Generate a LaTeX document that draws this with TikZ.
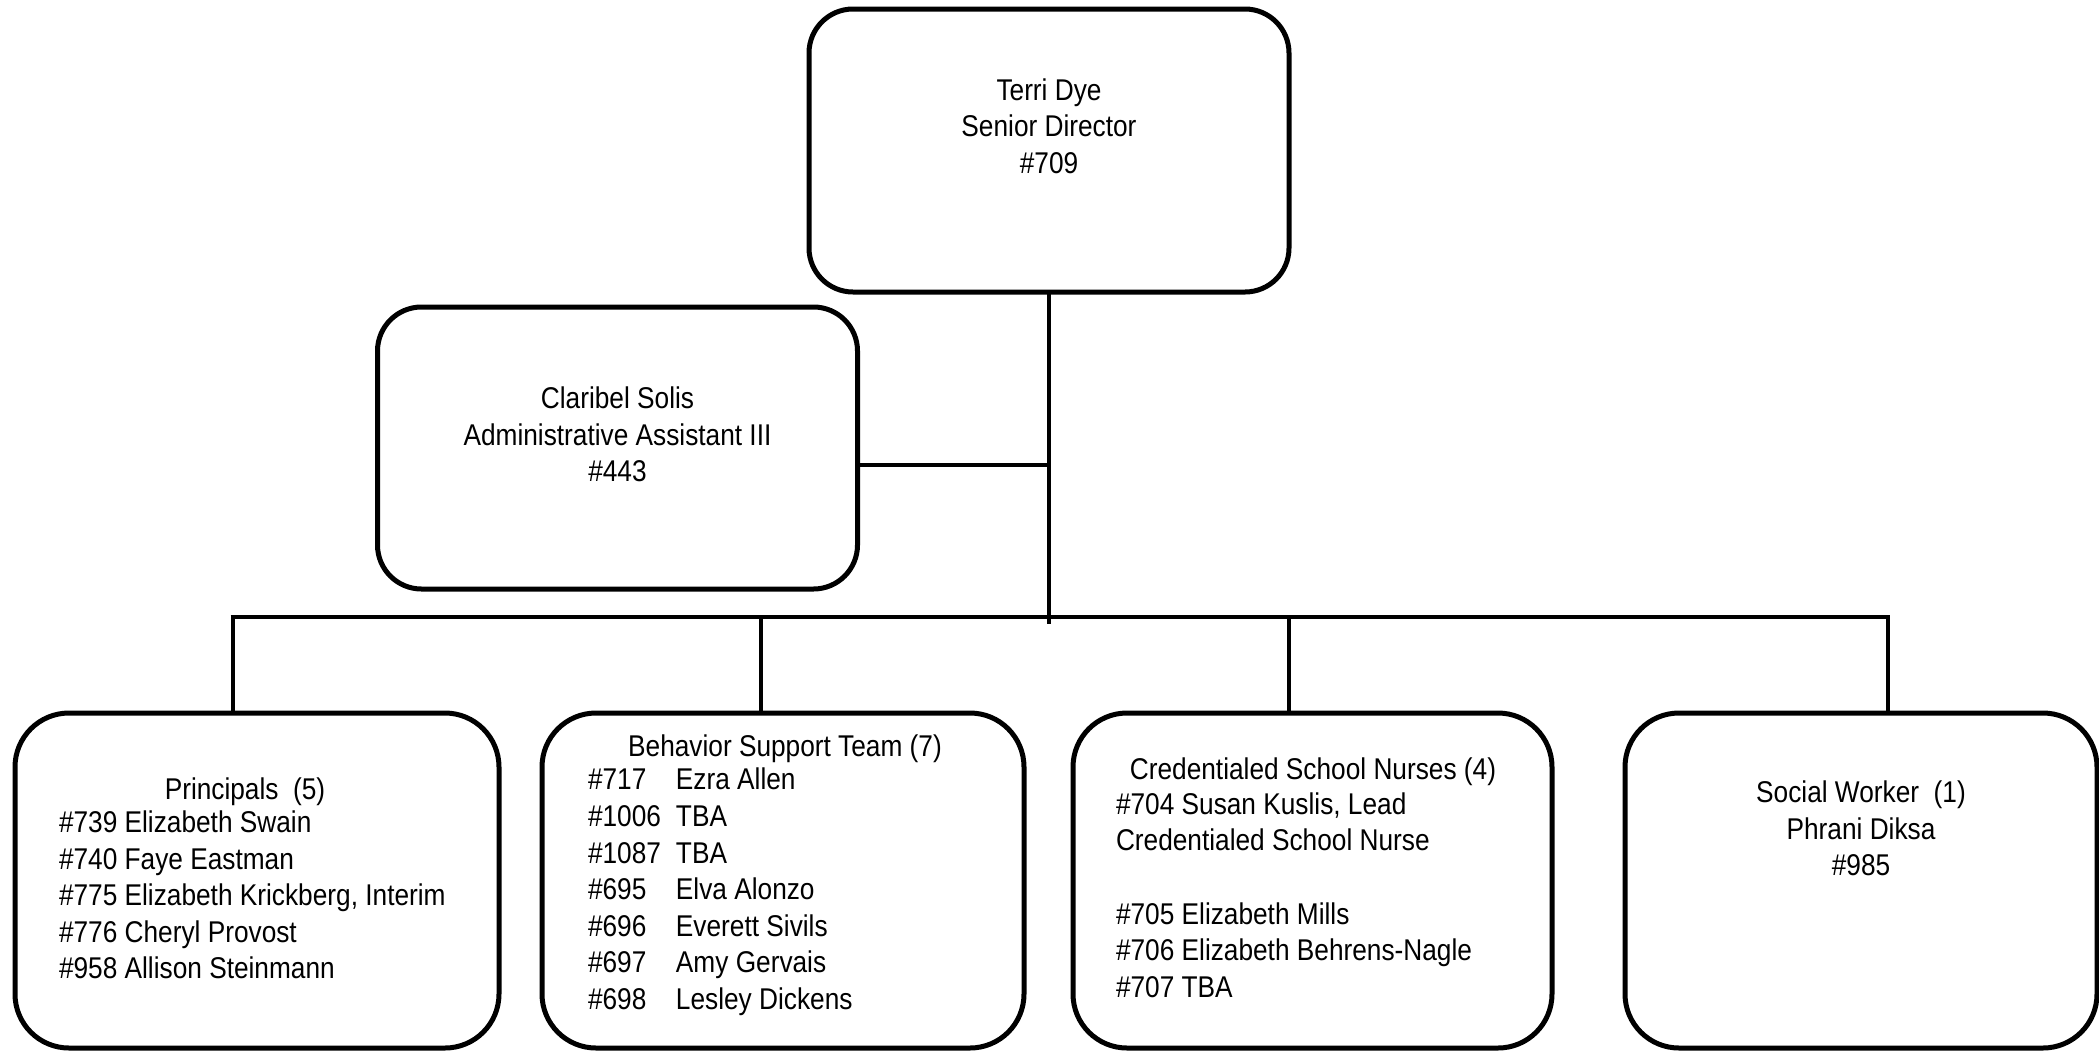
\documentclass[tikz,border=0pt]{standalone}
\usepackage{fontspec}
\setmainfont[FakeStretch=0.875]{Liberation Sans}
\begin{document}
\begin{tikzpicture}[x=0.5pt,y=-0.5pt,
  box/.style={draw, line width=2.5pt, fill=white, inner sep=0pt, outer sep=0pt},
  topbox/.style={box, rounded corners=22pt, minimum width=240pt},
  lowbox/.style={box, rounded corners=27pt, minimum height=167.5pt},
  conn/.style={line width=2.4pt},
  txt/.style={inner sep=0pt, outer sep=0pt, font=\fontsize{15pt}{18.3pt}\selectfont}]
\useasboundingbox (0,0) rectangle (2099,1051);
% boxes
\node[topbox, minimum height=141.5pt] (top) at (1049,150.5) {};
\node[topbox, minimum height=141pt] (clar) at (617.5,448) {};
\node[lowbox, minimum width=242pt] (prin) at (257,880.5) {};
\node[lowbox, minimum width=241pt] (beh) at (783,880.5) {};
\node[lowbox, minimum width=239.5pt] (nurse) at (1312.5,880.5) {};
\node[lowbox, minimum width=236pt] (soc) at (1861,880.5) {};
% junction points
\coordinate (join) at (1049,465);
\coordinate (vend) at (1049,624);
\coordinate (d1) at (233,617);
\coordinate (d2) at (761,617);
\coordinate (d3) at (1289,617);
\coordinate (d4) at (1888,617);
% connectors
\draw[conn] (top.south) -- (vend);
\draw[conn] (clar.east |- join) -- (join);
\draw[conn] ([xshift=-1.2pt]d1) -- ([xshift=1.2pt]d4);
\draw[conn] (d1) -- (d1 |- prin.north);
\draw[conn] (d2) -- (d2 |- beh.north);
\draw[conn] (d3) -- (d3 |- nurse.north);
\draw[conn] (d4) -- (d4 |- soc.north);
% texts
\node[txt, align=center] (toptxt) at (1049,126) {Terri Dye\\Senior Director\\\#709};
\node[txt, align=center] (clartxt) at (617.5,434.5) {Claribel Solis\\Administrative Assistant III\\\#443};
\node[txt, anchor=base] (printitle) at (245,799) {Principals~~(5)};
\node[txt, align=left, anchor=west] (prinlist) at (59,895) {\#739 Elizabeth Swain\\\#740 Faye Eastman\\\#775 Elizabeth Krickberg, Interim\\\#776 Cheryl Provost\\\#958 Allison Steinmann};
\node[txt, anchor=base] (behtitle) at (785,756) {Behavior Support Team (7)};
\node[txt, align=left, anchor=west] (behlist) at (588,892) {%
\makebox[44pt][l]{\#717}Ezra Allen\\
\makebox[44pt][l]{\#1006}TBA\\
\makebox[44pt][l]{\#1087}TBA\\
\makebox[44pt][l]{\#695}Elva Alonzo\\
\makebox[44pt][l]{\#696}Everett Sivils\\
\makebox[44pt][l]{\#697}Amy Gervais\\
\makebox[44pt][l]{\#698}Lesley Dickens};
\node[txt, anchor=base] (nursetitle) at (1313,779) {Credentialed School Nurses (4)};
\node[txt, align=left, anchor=west] (nurselist) at (1116,895) {\#704 Susan Kuslis, Lead\\Credentialed School Nurse\\\mbox{}\\\#705 Elizabeth Mills\\\#706 Elizabeth Behrens-Nagle\\\#707 TBA};
\node[txt, align=center] (soctxt) at (1861,828.5) {Social Worker~~(1)\\Phrani Diksa\\\#985};
\end{tikzpicture}
\end{document}
